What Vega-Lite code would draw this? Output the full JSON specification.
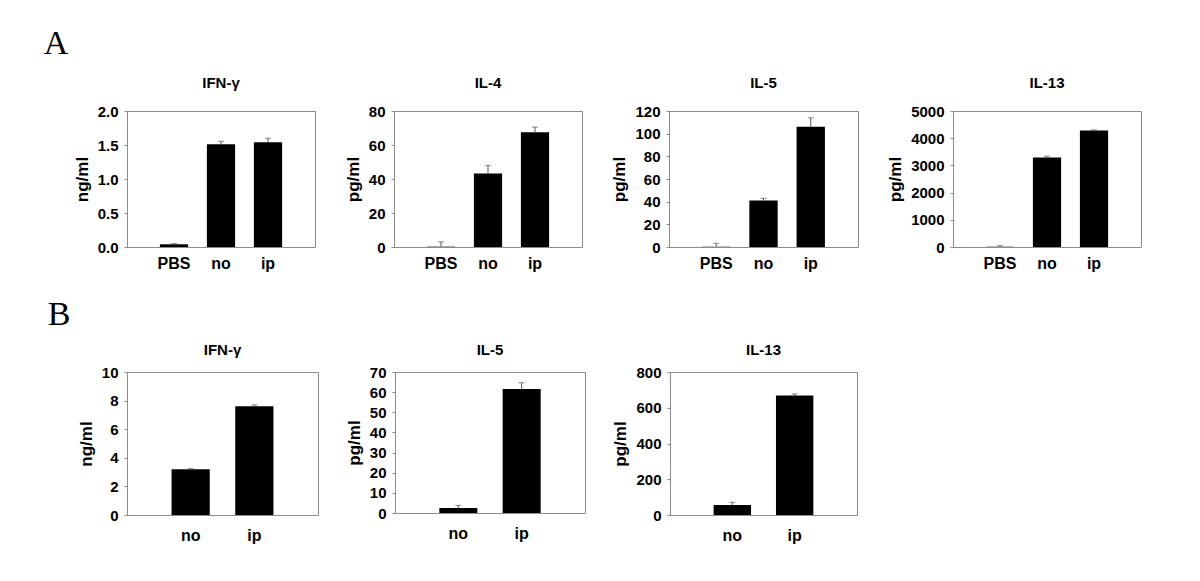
{
  "$schema": "https://vega.github.io/schema/vega-lite/v6.json",
  "background": "white",
  "padding": {"left": 43, "top": 26, "right": 5, "bottom": 5},
  "config": {
    "font": "Liberation Sans",
    "view": {"stroke": "#8c8c8c", "strokeWidth": 1},
    "axis": {"grid": false, "labelFont": "Liberation Sans", "labelFontWeight": "bold", "labelColor": "black", "titleFont": "Liberation Sans", "titleFontWeight": "bold", "titleColor": "black", "labelOverlap": false},
    "axisY": {"domainColor": "#8c8c8c", "tickColor": "#8c8c8c", "tickSize": 3, "labelFontSize": 15, "labelPadding": 6, "titleFontSize": 17, "titlePadding": 6, "labelOverlap": false, "tickCount": 20},
    "axisX": {"domain": false, "ticks": false, "labelFontSize": 16, "labelPadding": 8, "labelAngle": 0, "title": null},
    "title": {"font": "Liberation Sans", "fontSize": 15, "fontWeight": "bold", "color": "black", "offset": 13, "baseline": "alphabetic"},
    "concat": {"spacing": 26}
  },
  "data": {"values": [
    {"panel": "A1", "group": "PBS", "value": 0.04, "high": 0.05},
    {"panel": "A1", "group": "no", "value": 1.51, "high": 1.555},
    {"panel": "A1", "group": "ip", "value": 1.54, "high": 1.6},
    {"panel": "A2", "group": "PBS", "value": 0.2, "high": 3},
    {"panel": "A2", "group": "no", "value": 43.3, "high": 48},
    {"panel": "A2", "group": "ip", "value": 67.5, "high": 70.5},
    {"panel": "A3", "group": "PBS", "value": 0.3, "high": 3.3},
    {"panel": "A3", "group": "no", "value": 41, "high": 43},
    {"panel": "A3", "group": "ip", "value": 106, "high": 114},
    {"panel": "A4", "group": "PBS", "value": 10, "high": 50},
    {"panel": "A4", "group": "no", "value": 3290, "high": 3340},
    {"panel": "A4", "group": "ip", "value": 4280, "high": 4305},
    {"panel": "B1", "group": "no", "value": 3.2, "high": 3.24},
    {"panel": "B1", "group": "ip", "value": 7.6, "high": 7.7},
    {"panel": "B2", "group": "no", "value": 2.5, "high": 3.8},
    {"panel": "B2", "group": "ip", "value": 61.5, "high": 64.7},
    {"panel": "B3", "group": "no", "value": 56, "high": 71},
    {"panel": "B3", "group": "ip", "value": 668, "high": 677}
  ]},
  "spacing": 25,
  "vconcat": [
    {
      "title": {"text": "A", "font": "Liberation Serif", "fontSize": 34, "fontWeight": "normal", "anchor": "start", "dx": -29, "offset": 15},
      "spacing": 27,
      "hconcat": [
        {
          "title": "IFN-γ", "width": 188, "height": 136,
          "transform": [{"filter": "datum.panel === 'A1'"}],
          "encoding": {"x": {"field": "group", "type": "nominal", "sort": ["PBS", "no", "ip"], "scale": {"paddingInner": 0.4, "paddingOuter": 0.7}}},
          "layer": [
            {"mark": {"type": "bar", "color": "black"}, "encoding": {"y": {"field": "value", "type": "quantitative", "scale": {"domain": [0, 2]}, "axis": {"values": [0, 0.5, 1, 1.5, 2], "tickCount": 20, "format": ".1f", "title": "ng/ml", "labelOverlap": false}}}},
            {"mark": {"type": "rule", "color": "#555"}, "encoding": {"y": {"field": "value", "type": "quantitative"}, "y2": {"field": "high"}}},
            {"mark": {"type": "tick", "color": "#555", "size": 6, "thickness": 1}, "encoding": {"y": {"field": "high", "type": "quantitative"}}}
          ]
        },
        {
          "title": "IL-4", "width": 188, "height": 136,
          "transform": [{"filter": "datum.panel === 'A2'"}],
          "encoding": {"x": {"field": "group", "type": "nominal", "sort": ["PBS", "no", "ip"], "scale": {"paddingInner": 0.4, "paddingOuter": 0.7}}},
          "layer": [
            {"mark": {"type": "bar", "color": "black"}, "encoding": {"y": {"field": "value", "type": "quantitative", "scale": {"domain": [0, 80]}, "axis": {"values": [0, 20, 40, 60, 80], "tickCount": 20, "format": "d", "title": "pg/ml", "labelOverlap": false}}}},
            {"mark": {"type": "rule", "color": "#555"}, "encoding": {"y": {"field": "value", "type": "quantitative"}, "y2": {"field": "high"}}},
            {"mark": {"type": "tick", "color": "#555", "size": 6, "thickness": 1}, "encoding": {"y": {"field": "high", "type": "quantitative"}}}
          ]
        },
        {
          "title": "IL-5", "width": 189, "height": 136,
          "transform": [{"filter": "datum.panel === 'A3'"}],
          "encoding": {"x": {"field": "group", "type": "nominal", "sort": ["PBS", "no", "ip"], "scale": {"paddingInner": 0.4, "paddingOuter": 0.7}}},
          "layer": [
            {"mark": {"type": "bar", "color": "black"}, "encoding": {"y": {"field": "value", "type": "quantitative", "scale": {"domain": [0, 120]}, "axis": {"values": [0, 20, 40, 60, 80, 100, 120], "tickCount": 20, "format": "d", "title": "pg/ml", "labelOverlap": false}}}},
            {"mark": {"type": "rule", "color": "#555"}, "encoding": {"y": {"field": "value", "type": "quantitative"}, "y2": {"field": "high"}}},
            {"mark": {"type": "tick", "color": "#555", "size": 6, "thickness": 1}, "encoding": {"y": {"field": "high", "type": "quantitative"}}}
          ]
        },
        {
          "title": "IL-13", "width": 188, "height": 136,
          "transform": [{"filter": "datum.panel === 'A4'"}],
          "encoding": {"x": {"field": "group", "type": "nominal", "sort": ["PBS", "no", "ip"], "scale": {"paddingInner": 0.4, "paddingOuter": 0.7}}},
          "layer": [
            {"mark": {"type": "bar", "color": "black"}, "encoding": {"y": {"field": "value", "type": "quantitative", "scale": {"domain": [0, 5000]}, "axis": {"values": [0, 1000, 2000, 3000, 4000, 5000], "tickCount": 20, "format": "d", "title": "pg/ml", "labelOverlap": false}}}},
            {"mark": {"type": "rule", "color": "#555"}, "encoding": {"y": {"field": "value", "type": "quantitative"}, "y2": {"field": "high"}}},
            {"mark": {"type": "tick", "color": "#555", "size": 6, "thickness": 1}, "encoding": {"y": {"field": "high", "type": "quantitative"}}}
          ]
        }
      ]
    },
    {
      "title": {"text": "B", "font": "Liberation Serif", "fontSize": 34, "fontWeight": "normal", "anchor": "start", "dx": -29, "offset": 11},
      "spacing": 25,
      "hconcat": [
        {
          "title": {"text": "IFN-γ", "offset": 7}, "width": 191, "height": 143,
          "transform": [{"filter": "datum.panel === 'B1'"}],
          "encoding": {"x": {"field": "group", "type": "nominal", "sort": ["no", "ip"], "scale": {"paddingInner": 0.4, "paddingOuter": 0.7}, "axis": {"labelPadding": 12}}},
          "layer": [
            {"mark": {"type": "bar", "color": "black"}, "encoding": {"y": {"field": "value", "type": "quantitative", "scale": {"domain": [0, 10]}, "axis": {"values": [0, 2, 4, 6, 8, 10], "tickCount": 20, "format": "d", "title": "ng/ml", "labelOverlap": false}}}},
            {"mark": {"type": "rule", "color": "#555"}, "encoding": {"y": {"field": "value", "type": "quantitative"}, "y2": {"field": "high"}}},
            {"mark": {"type": "tick", "color": "#555", "size": 6, "thickness": 1}, "encoding": {"y": {"field": "high", "type": "quantitative"}}}
          ]
        },
        {
          "title": {"text": "IL-5", "offset": 7}, "width": 190, "height": 141,
          "transform": [{"filter": "datum.panel === 'B2'"}],
          "encoding": {"x": {"field": "group", "type": "nominal", "sort": ["no", "ip"], "scale": {"paddingInner": 0.4, "paddingOuter": 0.7}, "axis": {"labelPadding": 12}}},
          "layer": [
            {"mark": {"type": "bar", "color": "black"}, "encoding": {"y": {"field": "value", "type": "quantitative", "scale": {"domain": [0, 70]}, "axis": {"values": [0, 10, 20, 30, 40, 50, 60, 70], "tickCount": 20, "format": "d", "title": "pg/ml", "labelOverlap": false}}}},
            {"mark": {"type": "rule", "color": "#555"}, "encoding": {"y": {"field": "value", "type": "quantitative"}, "y2": {"field": "high"}}},
            {"mark": {"type": "tick", "color": "#555", "size": 6, "thickness": 1}, "encoding": {"y": {"field": "high", "type": "quantitative"}}}
          ]
        },
        {
          "title": {"text": "IL-13", "offset": 7}, "width": 187, "height": 143,
          "transform": [{"filter": "datum.panel === 'B3'"}],
          "encoding": {"x": {"field": "group", "type": "nominal", "sort": ["no", "ip"], "scale": {"paddingInner": 0.4, "paddingOuter": 0.7}, "axis": {"labelPadding": 12}}},
          "layer": [
            {"mark": {"type": "bar", "color": "black"}, "encoding": {"y": {"field": "value", "type": "quantitative", "scale": {"domain": [0, 800]}, "axis": {"values": [0, 200, 400, 600, 800], "tickCount": 20, "format": "d", "title": "pg/ml", "labelOverlap": false}}}},
            {"mark": {"type": "rule", "color": "#555"}, "encoding": {"y": {"field": "value", "type": "quantitative"}, "y2": {"field": "high"}}},
            {"mark": {"type": "tick", "color": "#555", "size": 6, "thickness": 1}, "encoding": {"y": {"field": "high", "type": "quantitative"}}}
          ]
        }
      ]
    }
  ]
}
